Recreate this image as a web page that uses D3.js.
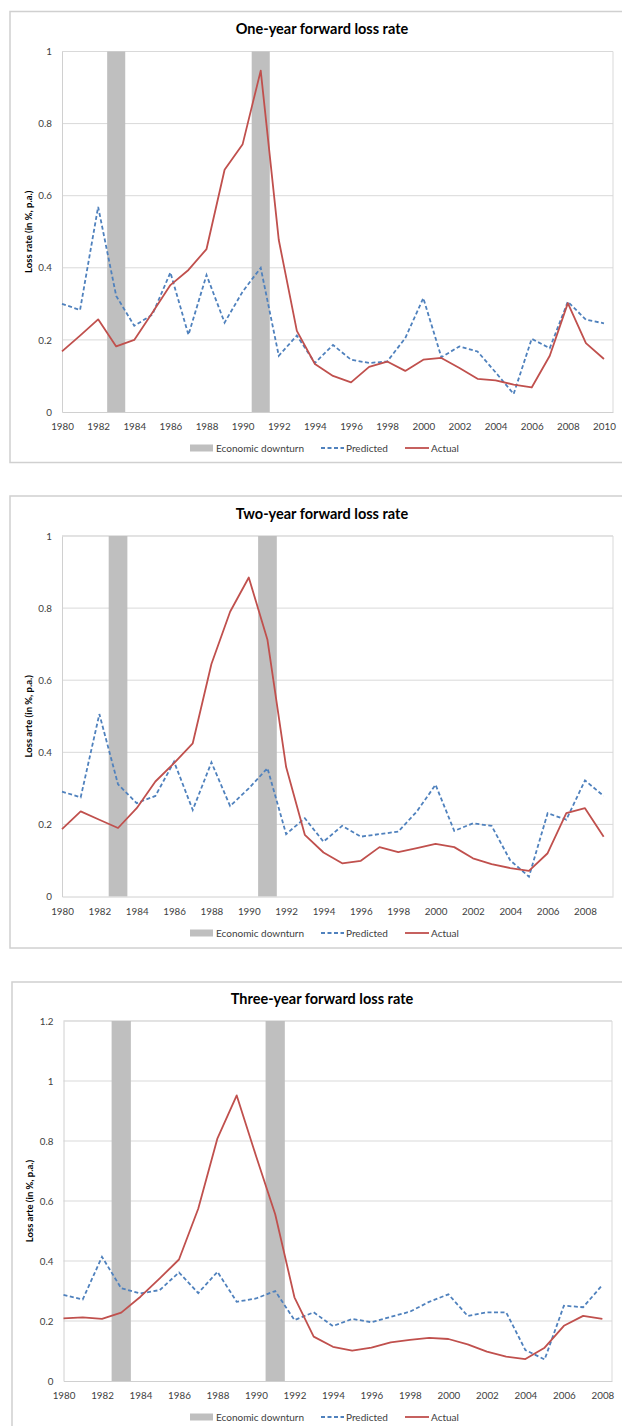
<!DOCTYPE html>
<html>
<head>
<meta charset="utf-8">
<script src="https://cdn.jsdelivr.net/npm/d3@7"></script>
<style>
  html, body { margin: 0; padding: 0; background: #fff; }
  svg { display: block; font-family: Lato, "Open Sans", sans-serif; }
</style>
</head>
<body>
<svg id="chart" width="622" height="1426"></svg>
<script>
// ---- Data ----
const downturnYears = [1983, 1991];
const legendLabels = ["Economic downturn", "Predicted", "Actual"];

const titles = ["One-year forward loss rate", "Two-year forward loss rate", "Three-year forward loss rate"];
const yAxisTitles = ["Loss rate (in %, p.a.)", "Loss arte (in %, p.a.)", "Loss arte (in %, p.a.)"];

const years1 = d3.range(1980, 2011);
const actual1 = [0.168, 0.212, 0.257, 0.182, 0.200, 0.275, 0.352, 0.394, 0.452, 0.672, 0.743, 0.947,
  0.477, 0.225, 0.133, 0.100, 0.082, 0.125, 0.140, 0.114, 0.145, 0.150, 0.122, 0.092, 0.088,
  0.076, 0.068, 0.156, 0.302, 0.191, 0.147];
const predicted1 = [0.300, 0.283, 0.569, 0.322, 0.239, 0.270, 0.387, 0.214, 0.380, 0.248, 0.334, 0.400,
  0.156, 0.212, 0.136, 0.186, 0.145, 0.136, 0.140, 0.205, 0.316, 0.152, 0.182, 0.168, 0.110,
  0.050, 0.203, 0.177, 0.306, 0.256, 0.246];
const yTicks1 = [0, 0.2, 0.4, 0.6, 0.8, 1];

const years2 = d3.range(1980, 2010);
const actual2 = [0.187, 0.236, 0.213, 0.190, 0.245, 0.319, 0.370, 0.425, 0.645, 0.790, 0.885, 0.712,
  0.359, 0.171, 0.122, 0.092, 0.099, 0.137, 0.123, 0.134, 0.146, 0.137, 0.106, 0.090, 0.079,
  0.071, 0.120, 0.231, 0.245, 0.166];
const predicted2 = [0.291, 0.275, 0.506, 0.311, 0.259, 0.279, 0.374, 0.240, 0.372, 0.251, 0.300, 0.356,
  0.173, 0.217, 0.152, 0.196, 0.166, 0.173, 0.180, 0.236, 0.310, 0.182, 0.203, 0.196, 0.100,
  0.055, 0.231, 0.213, 0.322, 0.279];
const yTicks2 = [0, 0.2, 0.4, 0.6, 0.8, 1];

const years3 = d3.range(1980, 2009);
const actual3 = [0.209, 0.212, 0.207, 0.228, 0.281, 0.342, 0.405, 0.574, 0.809, 0.952, 0.751, 0.556,
  0.279, 0.148, 0.114, 0.101, 0.111, 0.129, 0.137, 0.144, 0.140, 0.122, 0.098, 0.081, 0.073,
  0.111, 0.184, 0.217, 0.207];
const predicted3 = [0.287, 0.272, 0.414, 0.309, 0.292, 0.303, 0.362, 0.293, 0.364, 0.264, 0.275, 0.300,
  0.203, 0.229, 0.183, 0.207, 0.196, 0.214, 0.231, 0.264, 0.289, 0.217, 0.229, 0.229, 0.103,
  0.072, 0.251, 0.246, 0.320];
const yTicks3 = [0, 0.2, 0.4, 0.6, 0.8, 1, 1.2];

// ---- Panel layout ----
const panels = [
  { years: years1, actual: actual1, predicted: predicted1, yTicks: yTicks1, yMax: 1,
    frame: [10, 11.5, 640, 451], top: 51.5, bottom: 412, left: 62, right: 613, xMax: 2010.5,
    titleY: 34, xLabelY: 430, legendY: 448, yTitleX: 32 },
  { years: years2, actual: actual2, predicted: predicted2, yTicks: yTicks2, yMax: 1,
    frame: [10, 496, 640, 452], top: 536, bottom: 896.5, left: 62, right: 613, xMax: 2009.5,
    titleY: 519, xLabelY: 915, legendY: 933, yTitleX: 32 },
  { years: years3, actual: actual3, predicted: predicted3, yTicks: yTicks3, yMax: 1.2,
    frame: [12, 982, 640, 460], top: 1021, bottom: 1381, left: 63.5, right: 612, xMax: 2008.5,
    titleY: 1004, xLabelY: 1398.5, legendY: 1417, yTitleX: 33 }
];

const colors = { actual: "#C0504D", predicted: "#4F81BD", downturn: "#BFBFBF",
  grid: "#D9D9D9", frame: "#D0D0D0", text: "#404040" };

const svg = d3.select("#chart");

panels.forEach((p, i) => {
  const g = svg.append("g");

  // chart frame
  g.append("rect")
    .attr("x", p.frame[0]).attr("y", p.frame[1])
    .attr("width", p.frame[2]).attr("height", p.frame[3])
    .attr("fill", "#fff").attr("stroke", colors.frame).attr("stroke-width", 1.5);

  const x = d3.scaleLinear().domain([p.years[0], p.xMax]).range([p.left, p.right]);
  const y = d3.scaleLinear().domain([0, p.yMax]).range([p.bottom, p.top]);

  // title
  g.append("text")
    .attr("x", 322).attr("y", p.titleY)
    .attr("text-anchor", "middle")
    .attr("font-size", 14.5).attr("font-weight", "bold")
    .attr("fill", "#000")
    .text(titles[i]);

  // horizontal gridlines
  g.append("g")
    .selectAll("line")
    .data(p.yTicks.filter(t => t > 0))
    .join("line")
    .attr("x1", p.left).attr("x2", p.right)
    .attr("y1", d => y(d)).attr("y2", d => y(d))
    .attr("stroke", colors.grid).attr("stroke-width", 1);

  // plot-area border (top and right)
  g.append("path")
    .attr("d", `M${p.left},${y(p.yMax)}H${p.right}V${p.bottom}`)
    .attr("fill", "none").attr("stroke", colors.grid).attr("stroke-width", 1);

  // economic downturn bars, one year wide, full height
  g.append("g")
    .selectAll("rect")
    .data(downturnYears)
    .join("rect")
    .attr("x", d => x(d - 0.5))
    .attr("width", d => x(d + 0.5) - x(d - 0.5))
    .attr("y", y(p.yMax))
    .attr("height", p.bottom - y(p.yMax))
    .attr("fill", colors.downturn);

  // y axis
  const yAxis = d3.axisLeft(y).tickValues(p.yTicks).tickSize(0).tickPadding(10)
    .tickFormat(d3.format("~g"));
  const ya = g.append("g").attr("transform", `translate(${p.left},0)`).call(yAxis);
  ya.select(".domain").attr("stroke", "#D0D0D0");
  ya.selectAll("text").attr("font-size", 9.8).attr("fill", colors.text)
    .attr("font-family", "Lato, sans-serif");

  // x axis
  const xTicks = p.years.filter(yr => yr % 2 === 0);
  const xAxis = d3.axisBottom(x).tickValues(xTicks).tickSize(0).tickPadding(0)
    .tickFormat(d3.format("d"));
  const xa = g.append("g").attr("transform", `translate(0,${p.bottom})`).call(xAxis);
  xa.select(".domain").attr("stroke", "#D0D0D0");
  xa.selectAll("text").attr("font-size", 9.8).attr("fill", colors.text)
    .attr("font-family", "Lato, sans-serif")
    .attr("dy", null).attr("y", p.xLabelY - p.bottom);

  // y axis title
  g.append("text")
    .attr("transform", `translate(${p.yTitleX},${(p.top + p.bottom) / 2}) rotate(-90)`)
    .attr("text-anchor", "middle")
    .attr("font-size", 9.5).attr("font-weight", "bold").attr("fill", "#000")
    .text(yAxisTitles[i]);

  // series lines
  const line = d3.line().x((d, k) => x(p.years[k])).y(d => y(d));
  g.append("path").datum(p.predicted)
    .attr("d", line).attr("fill", "none")
    .attr("stroke", colors.predicted).attr("stroke-width", 1.8)
    .attr("stroke-dasharray", "4,2.5");
  g.append("path").datum(p.actual)
    .attr("d", line).attr("fill", "none")
    .attr("stroke", colors.actual).attr("stroke-width", 1.8)
    .attr("stroke-linejoin", "round");

  // legend
  const lg = g.append("g").attr("font-size", 10).attr("fill", colors.text);
  lg.append("rect").attr("x", 190).attr("y", p.legendY - 3.5).attr("width", 23).attr("height", 7)
    .attr("fill", colors.downturn);
  lg.append("text").attr("x", 216).attr("y", p.legendY + 3.5).text(legendLabels[0]);
  lg.append("line").attr("x1", 321).attr("x2", 344).attr("y1", p.legendY).attr("y2", p.legendY)
    .attr("stroke", colors.predicted).attr("stroke-width", 1.8).attr("stroke-dasharray", "4,2.5");
  lg.append("text").attr("x", 346).attr("y", p.legendY + 3.5).text(legendLabels[1]);
  lg.append("line").attr("x1", 405).attr("x2", 429).attr("y1", p.legendY).attr("y2", p.legendY)
    .attr("stroke", colors.actual).attr("stroke-width", 1.8);
  lg.append("text").attr("x", 431).attr("y", p.legendY + 3.5).text(legendLabels[2]);
});
</script>
</body>
</html>
